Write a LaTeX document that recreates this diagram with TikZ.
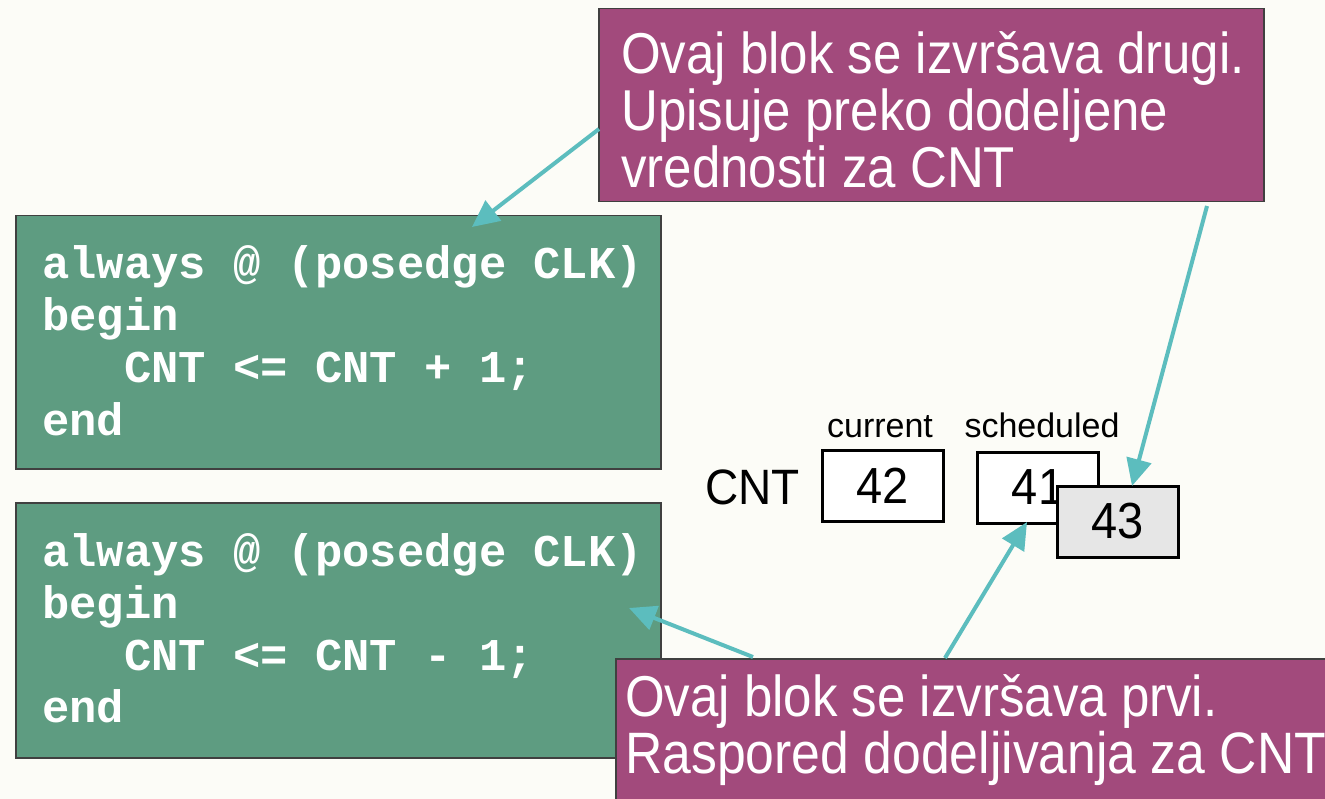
\documentclass[tikz,border=0pt]{standalone}
\usepackage{fontspec}
\usepackage{graphicx}
\setmainfont{Liberation Sans}
\setmonofont{Liberation Mono}
\usetikzlibrary{arrows.meta}
\definecolor{bg}{HTML}{FCFCF7}
\definecolor{plum}{HTML}{A24A7C}
\definecolor{codegreen}{HTML}{5E9C81}
\definecolor{pointercol}{HTML}{5CBDBE}
\definecolor{pending}{HTML}{E6E6E6}
% slightly condensed look of the sans labels
\newcommand{\tallsans}[2]{\scalebox{1}[#1]{#2}}
\tikzset{
  panel/.style={draw=black!75, line width=1.5pt, anchor=north west, inner sep=0pt},
  codebox/.style={panel, fill=codegreen},
  notebox/.style={panel, fill=plum},
  codeline/.style={anchor=base west, inner sep=0pt, text=white,
    font=\fontsize{45.5}{52}\selectfont\ttfamily\bfseries},
  noteline/.style={anchor=base west, inner sep=0pt, text=white,
    font=\fontsize{51}{57}\selectfont},
  cell/.style={draw=black, line width=3pt, minimum width=121pt, minimum height=71pt,
    inner sep=0pt, font=\fontsize{47}{50}\selectfont},
  caption/.style={anchor=base, inner sep=0pt, font=\fontsize{34}{38}\selectfont},
  pointer/.style={draw=pointercol, line width=4pt, -{Triangle[length=27pt,width=25pt]}}
}
\begin{document}
\begin{tikzpicture}[x=1pt,y=-1pt]
\fill[bg] (0,0) rectangle (1325,799);
\useasboundingbox (0,0) rectangle (1325,799);
\clip (0,0) rectangle (1325,799);

% first always block
\node[codebox, minimum width=645pt, minimum height=253pt] (codeA) at (15,215) {};
\node[codeline] (codeA1) at (42,279) {always @ (posedge CLK)};
\node[codeline] (codeA2) at (42,331) {begin};
\node[codeline] (codeA3) at (124,383) {CNT <= CNT + 1;};
\node[codeline] (codeA4) at (42,435) {end};

% second always block
\node[codebox, minimum width=645pt, minimum height=255pt] (codeB) at (15,502) {};
\node[codeline] (codeB1) at (42,566) {always @ (posedge CLK)};
\node[codeline] (codeB2) at (42,618) {begin};
\node[codeline] (codeB3) at (124,670) {CNT <= CNT - 1;};
\node[codeline] (codeB4) at (42,722) {end};

% annotations
\node[notebox, minimum width=665pt, minimum height=193pt] (noteTop) at (598,8) {};
\node[noteline] (noteTop1) at (621,74) {\tallsans{1.13}{Ovaj blok se izvršava drugi.}};
\node[noteline] (noteTop2) at (621,131) {\tallsans{1.13}{Upisuje preko dodeljene}};
\node[noteline] (noteTop3) at (621,188) {\tallsans{1.13}{vrednosti za CNT}};

\node[notebox, minimum width=730pt, minimum height=170pt] (noteBot) at (615,658) {};
\node[noteline] (noteBot1) at (625,716) {\tallsans{1.13}{Ovaj blok se izvršava prvi.}};
\node[noteline] (noteBot2) at (625,773) {\tallsans{1.13}{\fontsize{51.7}{57}\selectfont Raspored dodeljivanja za CNT}};

% register values
\node[anchor=base west, inner sep=0pt, font=\fontsize{46}{50}\selectfont] (cntlbl) at (705,504) {\tallsans{1.08}{CNT}};
\node[caption] (capCur) at (880,437) {current};
\node[caption] (capSch) at (1042,437) {scheduled};
\node[cell, fill=white] (cur) at (882.5,486) {\tallsans{1.08}{42}};
\node[cell, fill=white] (old) at (1038,487.5) {\tallsans{1.08}{41}};
\node[cell, fill=pending] (new) at (1117.5,521.5) {\tallsans{1.08}{43}};

% pointers
\coordinate (p1s) at (599,129);
\coordinate (p1e) at (472,227);
\coordinate (p2s) at (1207,206);
\coordinate (p2e) at (1132,486);
\coordinate (p3s) at (753,657);
\coordinate (p3e) at (629,608);
\coordinate (p4s) at (945,658);
\coordinate (p4e) at (1027,522);
\draw[pointer] (p1s) -- (p1e);
\draw[pointer] (p2s) -- (p2e);
\draw[pointer] (p3s) -- (p3e);
\draw[pointer] (p4s) -- (p4e);
\end{tikzpicture}
\end{document}
